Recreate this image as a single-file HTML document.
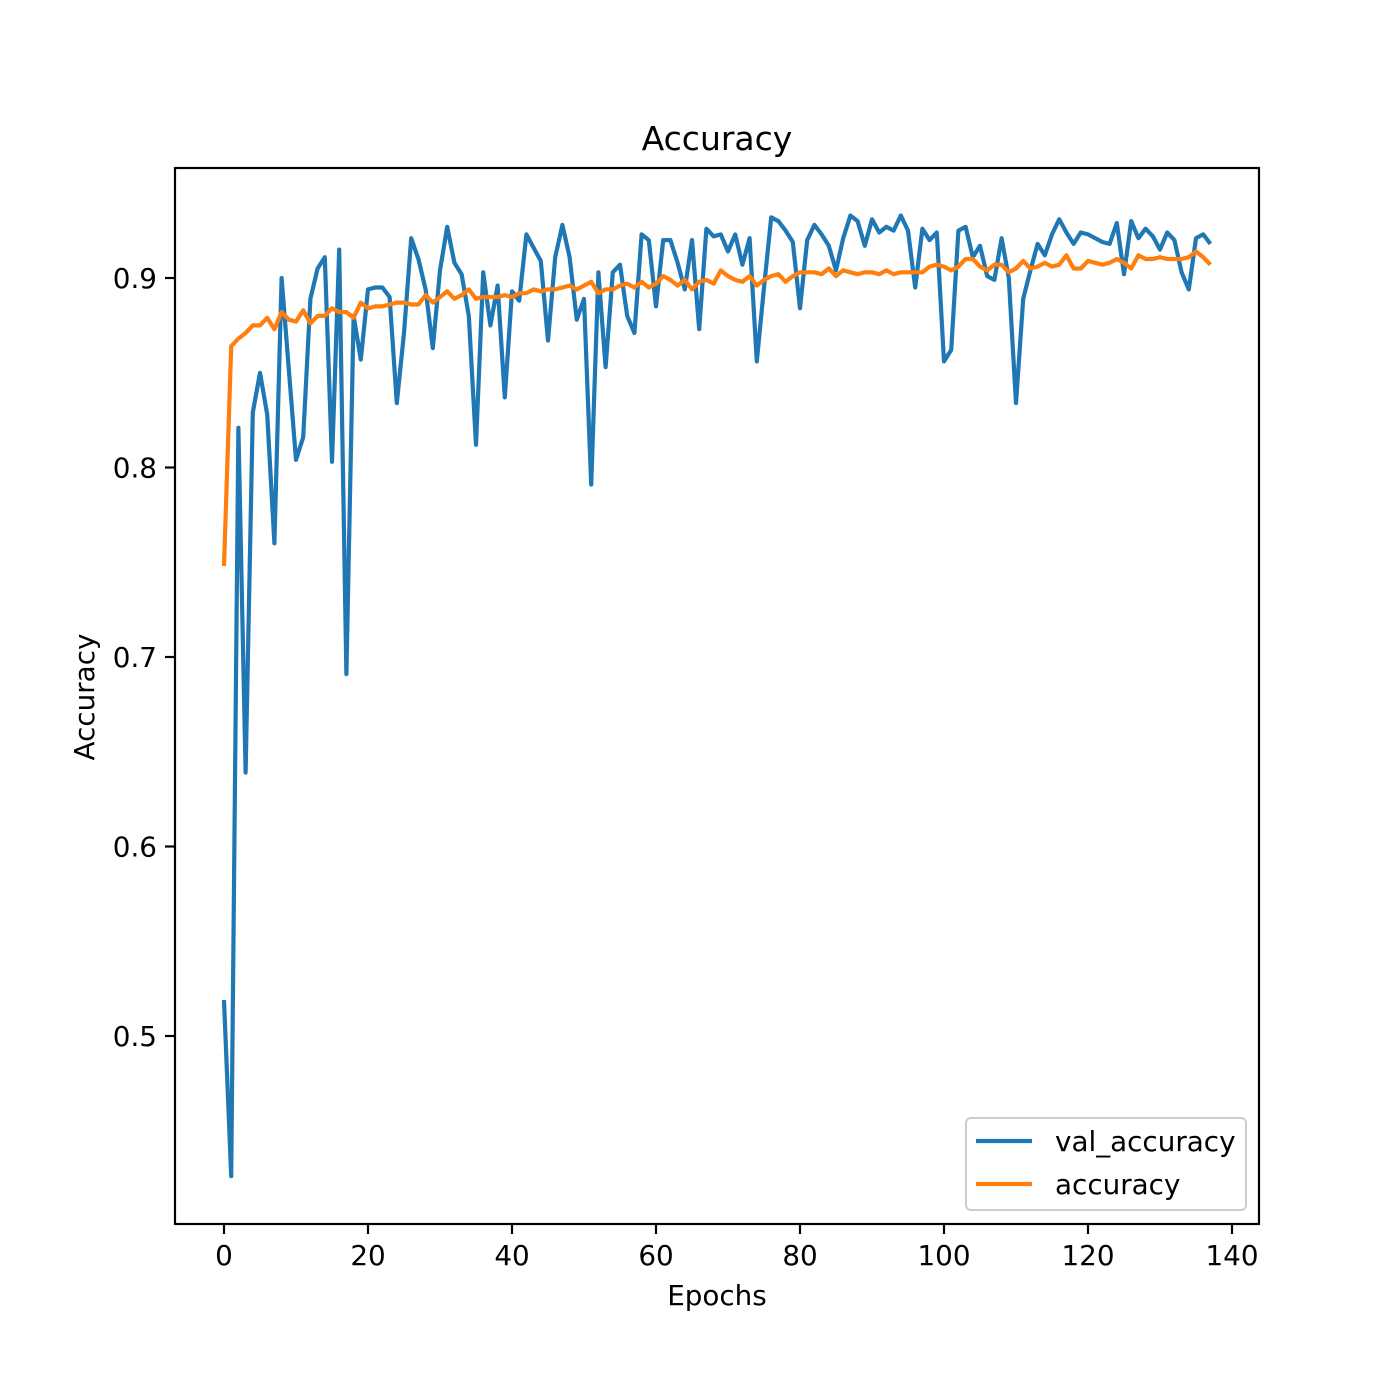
<!DOCTYPE html>
<html><head><meta charset="utf-8"><style>body{margin:0;background:#fff}svg{display:block;font-family:"DejaVu Sans","Liberation Sans",sans-serif}</style></head>
<body>
<svg id="chart" width="1400" height="1400">
<rect x="0" y="0" width="1400" height="1400" fill="#fff"/>
<text x="717" y="150" font-size="33" text-anchor="middle">Accuracy</text>
<g id="xticks"></g>
<g id="yticks"></g>
<g id="series"></g>
<rect x="175" y="168" width="1084" height="1056" fill="none" stroke="#000" stroke-width="2.2"/>
<text x="717" y="1305" font-size="27.8" text-anchor="middle">Epochs</text>
<text transform="translate(94,697) rotate(-90)" font-size="27.8" text-anchor="middle">Accuracy</text>
<g>
<rect x="966" y="1118" width="280" height="92" rx="5" fill="#fff" fill-opacity="0.8" stroke="#ccc" stroke-width="2"/>
<line x1="976" y1="1141" x2="1032" y2="1141" stroke="#1f77b4" stroke-width="4.2"/>
<text x="1055" y="1151" font-size="27.8">val_accuracy</text>
<line x1="976" y1="1184" x2="1032" y2="1184" stroke="#ff7f0e" stroke-width="4.2"/>
<text x="1055" y="1194" font-size="27.8">accuracy</text>
</g>
</svg>
<script>
const valAccuracy = [0.519,0.426,0.821,0.639,0.829,0.850,0.828,0.760,0.900,0.852,0.804,0.816,0.889,0.905,0.911,0.803,0.915,0.691,0.880,0.857,0.894,0.895,0.895,0.890,0.834,0.871,0.921,0.910,0.894,0.863,0.904,0.927,0.908,0.902,0.880,0.812,0.903,0.875,0.896,0.837,0.893,0.888,0.923,0.916,0.909,0.867,0.911,0.928,0.911,0.878,0.889,0.791,0.903,0.853,0.903,0.907,0.880,0.871,0.923,0.920,0.885,0.920,0.920,0.908,0.894,0.920,0.873,0.926,0.922,0.923,0.914,0.923,0.907,0.921,0.856,0.895,0.932,0.930,0.925,0.919,0.884,0.920,0.928,0.923,0.917,0.904,0.921,0.933,0.930,0.917,0.931,0.924,0.927,0.925,0.933,0.925,0.895,0.926,0.920,0.924,0.856,0.862,0.925,0.927,0.911,0.917,0.901,0.899,0.921,0.900,0.834,0.889,0.904,0.918,0.912,0.923,0.931,0.924,0.918,0.924,0.923,0.921,0.919,0.918,0.929,0.902,0.930,0.921,0.926,0.922,0.915,0.924,0.920,0.903,0.894,0.921,0.923,0.918];
const trainAccuracy = [0.748,0.864,0.868,0.871,0.875,0.875,0.879,0.873,0.882,0.878,0.877,0.883,0.876,0.880,0.880,0.884,0.882,0.882,0.879,0.887,0.884,0.885,0.885,0.886,0.887,0.887,0.886,0.886,0.891,0.887,0.890,0.893,0.889,0.891,0.894,0.889,0.890,0.890,0.890,0.891,0.890,0.892,0.892,0.894,0.893,0.894,0.894,0.895,0.896,0.894,0.896,0.898,0.892,0.894,0.894,0.896,0.897,0.895,0.898,0.895,0.897,0.901,0.899,0.896,0.899,0.894,0.898,0.899,0.897,0.904,0.901,0.899,0.898,0.901,0.896,0.899,0.901,0.902,0.898,0.901,0.903,0.903,0.903,0.902,0.905,0.901,0.904,0.903,0.902,0.903,0.903,0.902,0.904,0.902,0.903,0.903,0.903,0.903,0.906,0.907,0.906,0.904,0.906,0.910,0.910,0.906,0.904,0.907,0.907,0.903,0.905,0.909,0.905,0.906,0.908,0.906,0.907,0.912,0.905,0.905,0.909,0.908,0.907,0.908,0.910,0.908,0.905,0.912,0.910,0.910,0.911,0.910,0.910,0.910,0.911,0.914,0.911,0.907];
const xTickValues = [0,20,40,60,80,100,120,140];
const yTickValues = [0.5,0.6,0.7,0.8,0.9];
const yTickLabels = ["0.5","0.6","0.7","0.8","0.9"];

const NS = "http://www.w3.org/2000/svg";
function xScale(v){ return 224 + v * 7.2; }
function yScale(v){ return 278 + (0.9 - v) * 1895; }

const xg = document.getElementById('xticks');
xTickValues.forEach(v => {
  const l = document.createElementNS(NS,'line');
  l.setAttribute('x1', xScale(v)); l.setAttribute('x2', xScale(v));
  l.setAttribute('y1', 1224); l.setAttribute('y2', 1234);
  l.setAttribute('stroke', '#000'); l.setAttribute('stroke-width', '2.2');
  
  
  xg.appendChild(l);
  const t = document.createElementNS(NS,'text');
  t.setAttribute('x', xScale(v)); t.setAttribute('y', 1265);
  t.setAttribute('font-size', '27.8'); t.setAttribute('text-anchor', 'middle');
  t.textContent = String(v);
  
  
  xg.appendChild(t);
});
const yg = document.getElementById('yticks');
yTickValues.forEach((v,i) => {
  const l = document.createElementNS(NS,'line');
  l.setAttribute('x1', 165); l.setAttribute('x2', 175);
  l.setAttribute('y1', yScale(v)); l.setAttribute('y2', yScale(v));
  l.setAttribute('stroke', '#000'); l.setAttribute('stroke-width', '2.2');
  
  
  yg.appendChild(l);
  const t = document.createElementNS(NS,'text');
  t.setAttribute('x', 157); t.setAttribute('y', yScale(v) + 10);
  t.setAttribute('font-size', '27.8'); t.setAttribute('text-anchor', 'end');
  t.textContent = yTickLabels[i];
  
  
  yg.appendChild(t);
});
const sg = document.getElementById('series');
function drawLine(arr, color, name){
  const p = document.createElementNS(NS,'polyline');
  p.setAttribute('points', arr.map((v,i) => xScale(i).toFixed(1) + ',' + yScale(v).toFixed(1)).join(' '));
  p.setAttribute('fill', 'none'); p.setAttribute('stroke', color);
  p.setAttribute('stroke-width', '4.2'); p.setAttribute('stroke-linejoin', 'round');
  
  
  sg.appendChild(p);
}
drawLine(valAccuracy, '#1f77b4', 'val-accuracy-line');
drawLine(trainAccuracy, '#ff7f0e', 'accuracy-line');
</script>
</body></html>
